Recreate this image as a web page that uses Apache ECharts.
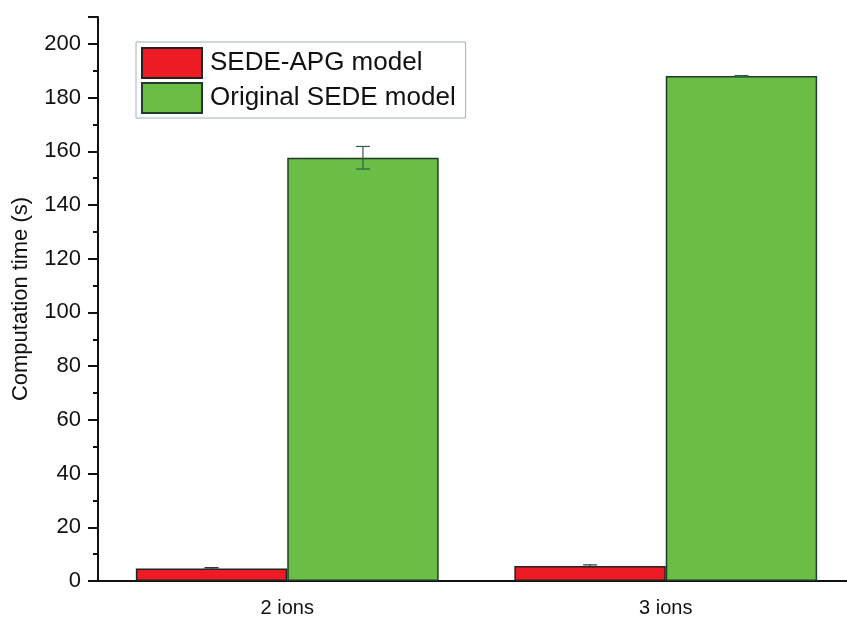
<!DOCTYPE html>
<html>
<head>
<meta charset="utf-8">
<script src="https://cdn.jsdelivr.net/npm/echarts@6/dist/echarts.min.js"></script>
<style>
  html, body { margin: 0; padding: 0; background: #fff; overflow: hidden; }
  #chart { width: 860px; height: 618px; }
</style>
</head>
<body>
<div id="chart"></div>
<script>
const categories = ['2 ions', '3 ions']
const apgValues = [4.7, 5.6]
const apgErrors = [0.3, 0.4]
const origValues = [157.6, 188.0]
const origErrors = [4.2, 0.2]

const font = 'Liberation Sans, Arial, sans-serif'
const chart = echarts.init(document.getElementById('chart'))

// error bar: offset = -0.2 band (red) or +0.2 band (green)
function errorSeries(values, errors, shift, color) {
  return {
    type: 'custom',
    z: 5,
    data: values.map((v, i) => [i, v, errors[i]]),
    renderItem(params, api) {
      const i = api.value(0)
      const band = api.size([1, 0])[0]
      const x = api.coord([i, 0])[0] + shift * band
      const top = api.coord([i, api.value(1) + api.value(2)])[1]
      const bot = api.coord([i, api.value(1) - api.value(2)])[1]
      const half = 7
      const style = { stroke: color, lineWidth: 1.2 }
      return {
        type: 'group',
        children: [
          { type: 'line', shape: { x1: x, y1: top, x2: x, y2: bot }, style },
          { type: 'line', shape: { x1: x - half, y1: top, x2: x + half, y2: top }, style },
          { type: 'line', shape: { x1: x - half, y1: bot, x2: x + half, y2: bot }, style },
        ],
      }
    },
  }
}

chart.setOption({
  animation: false,
  textStyle: { fontFamily: font },
  grid: { left: 98, top: 17, width: 757, height: 564 },
  legend: {
    left: 136,
    top: 42,
    orient: 'vertical',
    itemWidth: 60,
    itemHeight: 30,
    itemGap: 3,
    padding: [5, 10, 4, 5],
    borderColor: '#9db0bd',
    borderWidth: 1,
    icon: 'rect',
    data: ['SEDE-APG model', 'Original SEDE model'],
    textStyle: { fontSize: 26, color: '#111', fontFamily: font, padding: [0, 0, 0, 3] },
  },
  xAxis: {
    type: 'category',
    data: categories,
    axisLine: { lineStyle: { color: '#111', width: 2 } },
    axisTick: { alignWithLabel: true, length: 12, lineStyle: { color: '#111', width: 2 } },
    axisLabel: { fontSize: 20, color: '#111', margin: 17, fontFamily: font },
  },
  yAxis: {
    type: 'value',
    min: 0,
    max: 210,
    interval: 20,
    name: 'Computation time (s)',
    nameLocation: 'middle',
    nameGap: 66,
    nameTextStyle: { fontSize: 22, color: '#111', fontFamily: font },
    axisLine: { show: true, lineStyle: { color: '#111', width: 2 } },
    axisTick: { show: true, length: 10, lineStyle: { color: '#111', width: 2 } },
    minorTick: { show: true, splitNumber: 2, length: 5, lineStyle: { color: '#111', width: 2 } },
    splitLine: { show: false },
    axisLabel: {
      fontSize: 22,
      color: '#111',
      margin: 17,
      fontFamily: font,
      formatter: v => (v > 200 ? '' : String(v)),
    },
  },
  series: [
    {
      name: 'SEDE-APG model',
      type: 'bar',
      data: apgValues,
      barWidth: '40%',
      barGap: '0%',
      itemStyle: { color: '#ED1C24', borderColor: '#222', borderWidth: 1.5 },
    },
    {
      name: 'Original SEDE model',
      type: 'bar',
      data: origValues,
      barWidth: '40%',
      barGap: '0%',
      itemStyle: { color: '#6ABD45', borderColor: '#1f3b2a', borderWidth: 1.5 },
    },
    errorSeries(apgValues, apgErrors, -0.2, '#333'),
    errorSeries(origValues, origErrors, 0.2, '#2f5e45'),
  ],
})
</script>
</body>
</html>
